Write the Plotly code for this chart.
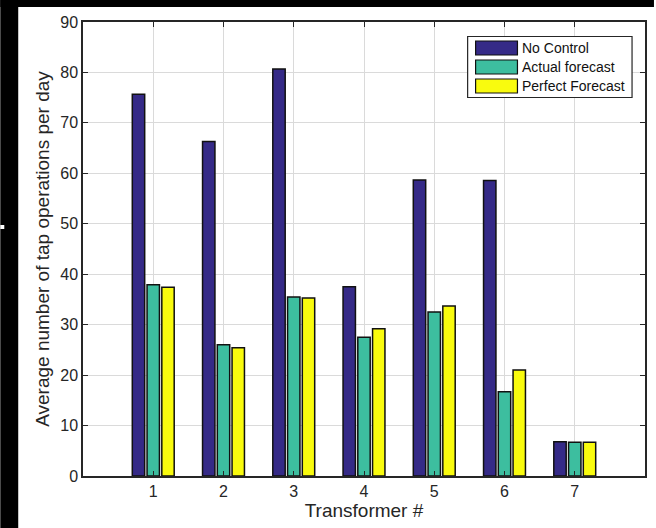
import plotly.graph_objects as go

# Tap-operation counts per transformer under three control strategies
transformers = [1, 2, 3, 4, 5, 6, 7]
tick_labels = ["1", "2", "3", "4", "5", "6", "7"]
no_control = [75.7, 66.3, 80.7, 37.5, 58.7, 58.6, 6.8]
actual_forecast = [37.9, 26.0, 35.5, 27.5, 32.5, 16.7, 6.7]
perfect_forecast = [37.4, 25.4, 35.3, 29.2, 33.7, 21.0, 6.7]

series_names = ["No Control", "Actual forecast", "Perfect Forecast"]
series_colors = ["#352A87", "#3DBE9F", "#F9FB0E"]
series_values = [no_control, actual_forecast, perfect_forecast]

W, H = 656, 528
ML, MR, MT, MB = 83, 9, 22, 52
PW, PH = W - ML - MR, H - MT - MB


def px(x):
    return (x - ML) / PW


def py(y):
    return (H - MB - y) / PH


FONT = "Liberation Sans, Arial, sans-serif"
INK = "#262626"

fig = go.Figure()
for name, color, vals in zip(series_names, series_colors, series_values):
    fig.add_trace(go.Bar(
        x=transformers, y=vals, name=name,
        marker=dict(color=color, line=dict(color="#111111", width=1.5)),
        showlegend=False,
    ))

shapes = []
# dark frame strips along the top and left edges of the page
shapes.append(dict(type="rect", xref="paper", yref="paper", x0=px(0), x1=px(18),
                   y0=py(H), y1=py(0), fillcolor="black", line_width=0, layer="below"))
shapes.append(dict(type="rect", xref="paper", yref="paper", x0=px(0), x1=px(W),
                   y0=py(7), y1=py(0), fillcolor="black", line_width=0, layer="below"))
shapes.append(dict(type="rect", xref="paper", yref="paper", x0=px(0), x1=px(4),
                   y0=py(229), y1=py(225), fillcolor="white", line_width=0, layer="below"))

# legend box with wide swatches
annotations = []
shapes.append(dict(type="rect", xref="paper", yref="paper", x0=px(469), x1=px(634),
                   y0=py(97.5), y1=py(36.5), fillcolor="white",
                   line=dict(color=INK, width=1.2), layer="above"))
row_centers = [48, 67, 86]
for name, color, yc in zip(series_names, series_colors, row_centers):
    shapes.append(dict(type="rect", xref="paper", yref="paper", x0=px(477), x1=px(519),
                       y0=py(yc + 7), y1=py(yc - 7), fillcolor=color,
                       line=dict(color="#111111", width=1.2), layer="above"))
    annotations.append(dict(xref="paper", yref="paper", x=px(522), y=py(yc),
                            xanchor="left", yanchor="middle", text=name, showarrow=False,
                            font=dict(family=FONT, size=14, color="#111111")))

fig.update_layout(
    width=W, height=H,
    margin=dict(l=ML, r=MR, t=MT, b=MB),
    paper_bgcolor="white", plot_bgcolor="white",
    barmode="group", bargap=0.37, bargroupgap=0.16,
    font=dict(family=FONT, color=INK),
    shapes=shapes, annotations=annotations,
)
fig.update_xaxes(
    range=[0, 8], tickvals=transformers, ticktext=tick_labels,
    showgrid=True, gridcolor="#DADADA", gridwidth=1,
    showline=True, linecolor=INK, linewidth=1.5, mirror="ticks",
    ticks="inside", ticklen=5, tickcolor=INK, tickwidth=1,
    tickfont=dict(size=16, color=INK),
    title=dict(text="Transformer #", font=dict(size=19, color=INK), standoff=2),
    zeroline=False,
)
fig.update_yaxes(
    range=[0, 90], dtick=10,
    showgrid=True, gridcolor="#DADADA", gridwidth=1,
    showline=True, linecolor=INK, linewidth=1.5, mirror="ticks",
    ticks="inside", ticklen=5, tickcolor=INK, tickwidth=1,
    tickfont=dict(size=16, color=INK),
    title=dict(text="Average number of tap operations per day",
               font=dict(size=19, color=INK), standoff=6),
    zeroline=False,
)

fig.write_html("out.html")
